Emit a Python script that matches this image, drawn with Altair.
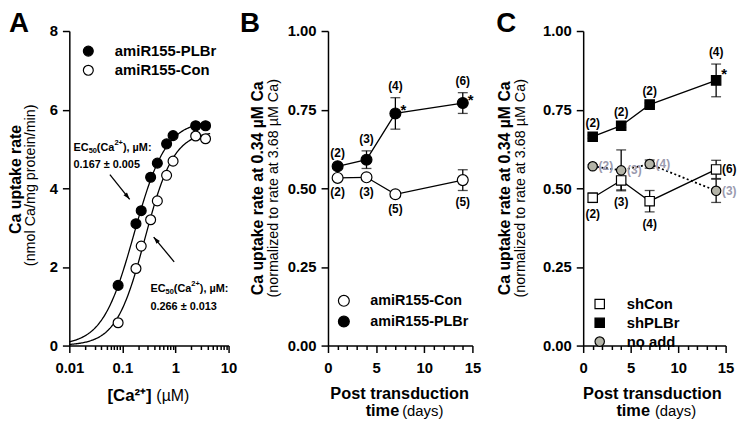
import altair as alt
import numpy as np
import pandas as pd

FONT = "Liberation Sans"
GRAYTXT = "#9a9aae"
GRAYFILL = "#b4b4a8"

# ---------------- data ----------------
# Panel A : Ca dependence
ca_conc = [0.083, 0.18, 0.226, 0.34, 0.455, 0.68, 0.90, 2.4, 3.68]
a_plbr = [1.53, 3.10, 3.43, 4.28, 4.64, 5.13, 5.34, 5.59, 5.59]
a_con = [0.58, 1.96, 2.53, 3.20, 3.68, 4.33, 4.69, 5.33, 5.26]
a_names = ["amiR155-PLBr", "amiR155-Con"]
a_ec50 = [0.167, 0.266]
a_vmax = [5.72, 5.45]
a_hill = [1.45, 1.6]
a_ec50_txt = ["0.167 ± 0.005", "0.266 ± 0.013"]
a_major = [0.01, 0.1, 1, 10]

# Panel B
days = [1, 4, 7, 14]
b_names = ["amiR155-Con", "amiR155-PLBr"]
b_con = [0.533, 0.535, 0.481, 0.526]
b_con_err = [0.008, 0.008, 0.008, 0.033]
b_con_n = [2, 3, 5, 5]
b_plbr = [0.570, 0.591, 0.738, 0.771]
b_plbr_err = [0.005, 0.028, 0.050, 0.033]
b_plbr_n = [2, 3, 4, 6]
b_plbr_sig = [False, False, True, True]

# Panel C
c_names = ["shCon", "shPLBr", "no add"]
c_shcon = [0.470, 0.525, 0.459, 0.560]
c_shcon_err = [0.015, 0.030, 0.034, 0.029]
c_shcon_n = [2, 3, 4, 6]
c_shplbr = [0.664, 0.699, 0.766, 0.843]
c_shplbr_err = [0.005, 0.005, 0.005, 0.052]
c_shplbr_n = [2, 2, 2, 4]
c_shplbr_sig = [False, False, False, True]
c_noadd = [0.570, 0.557, 0.577, 0.492]
c_noadd_err = [0.005, 0.065, 0.013, 0.037]
c_noadd_n = [2, 3, 4, 3]

one = pd.DataFrame({"k": [0]})


def txt(text, x, y, size, weight="normal", angle=0, align="center",
        baseline="alphabetic", color="black", font=FONT):
    mk = dict(text=text, fontSize=size, fontWeight=weight, align=align,
              baseline=baseline, color=color, font=font)
    if angle:
        mk["angle"] = angle
    return alt.Chart(one).mark_text(**mk).encode(x=alt.value(x), y=alt.value(y))


def legend(x, y, size, rowpad, offset, lsize):
    return alt.Legend(title=None, orient="none", legendX=x, legendY=y, padding=0,
                      symbolSize=size, symbolStrokeColor="black", symbolStrokeWidth=1.2,
                      rowPadding=rowpad, labelOffset=offset, labelFont=FONT,
                      labelFontSize=lsize, labelFontWeight="bold", labelColor="black")


PT_STROKE = dict(stroke=alt.value("black"), strokeWidth=alt.value(1.2))

# ---------------- panel A ----------------
WA, HA = 161, 318
a_ticks = sorted(set([round(m * 10.0 ** e, 4) for e in (-2, -1, 0) for m in range(1, 10)] + [10]))
a_test = " || ".join(f"datum.value == {v}" for v in a_major)
xA_axis = alt.Axis(values=a_ticks, title=None, format="~g", labelFlush=False, labelOverlap=False,
                   labelExpr=f"({a_test}) ? datum.label : ''", labelPadding=8,
                   tickSize={"condition": {"test": a_test, "value": 7}, "value": 4})
yA_axis = alt.Axis(values=[0, 2, 4, 6, 8], title=None, tickSize=7, labelPadding=5, format="d")
xA_scale = alt.Scale(type="log", domain=[0.01, 10], nice=False)
yA_scale = alt.Scale(domain=[0, 8], nice=False)


def XA(f):
    return alt.X(f, scale=xA_scale, axis=xA_axis)


def YA(f):
    return alt.Y(f, scale=yA_scale, axis=yA_axis)


df_a = pd.DataFrame({"x": ca_conc * 2, "y": a_plbr + a_con,
                     "series": [a_names[0]] * len(ca_conc) + [a_names[1]] * len(ca_conc)})
fit_rows = []
for name, ec, vm, nh in zip(a_names, a_ec50, a_vmax, a_hill):
    xs = np.geomspace(0.01, 4.5, 160)
    ys = vm * xs ** nh / (ec ** nh + xs ** nh)
    fit_rows.append(pd.DataFrame({"x": xs, "y": ys, "series": name}))
df_fit = pd.concat(fit_rows, ignore_index=True)

# EC50 annotations (anchor in data units)
ann_head = pd.DataFrame({"x": [0.0120, 0.337], "y": [5.02, 1.445]})
ann_val = pd.DataFrame({"x": [0.0120, 0.337], "y": [4.585, 0.99], "t": a_ec50_txt})
arrows = pd.DataFrame({"x1": [0.0581, 0.944], "y1": [4.35, 2.13],
                       "x2": [0.137, 0.388], "y2": [3.72, 2.76], "ang": [141, 320]})


def ann_piece(text, dx, dy, size):
    return alt.Chart(ann_head).mark_text(text=text, align="left", fontWeight="bold",
                                         fontSize=size, dx=dx, dy=dy, color="black").encode(
        x=XA("x:Q"), y=YA("y:Q"))


def letter(t, x):
    return txt(t, x, -21, 28, "bold", align="left", baseline="top")


A_layers = [
    alt.Chart(df_fit).mark_line(color="black", strokeWidth=1.3).encode(
        x=XA("x:Q"), y=YA("y:Q"), detail="series:N"),
    alt.Chart(arrows).mark_rule(color="black", strokeWidth=1.3).encode(
        x=XA("x1:Q"), y=YA("y1:Q"), x2="x2:Q", y2="y2:Q"),
    alt.Chart(arrows).mark_point(shape="M0,0L0.32,1L-0.32,1Z", filled=True, color="black",
                                 size=200, opacity=1).encode(
        x=XA("x2:Q"), y=YA("y2:Q"), angle=alt.Angle("ang:Q", scale=None)),
    ann_piece("EC", 0, 0, 11),
    ann_piece("50", 15.3, 3, 7.5),
    ann_piece("(Ca", 23.6, 0, 11),
    ann_piece("2+", 41.3, -5, 7.5),
    ann_piece("), µM:", 49.9, 0, 11),
    alt.Chart(ann_val).mark_text(align="left", fontWeight="bold", fontSize=11,
                                 color="black").encode(x=XA("x:Q"), y=YA("y:Q"), text="t:N"),
    alt.Chart(df_a).mark_point(filled=True, shape="circle", size=100, opacity=1).encode(
        x=XA("x:Q"), y=YA("y:Q"),
        fill=alt.Fill("series:N", scale=alt.Scale(domain=a_names, range=["black", "white"]),
                      legend=legend(11.7, 12.8, 100, 3.4, 19.3, 15)),
        **PT_STROKE),
    letter("A", -61),
    txt("Ca uptake rate", -54, 150, 16, "bold", angle=270, baseline="middle"),
    txt("(nmol Ca/mg protein/min)", -39, 156, 14.5, angle=270, baseline="middle"),
    txt("[Ca²⁺]", 83.3, 374, 17, "bold", align="right"),
    txt("(µM)", 88, 374, 16, align="left"),
]
panelA = alt.layer(*A_layers).properties(width=WA, height=HA)


# ---------------- panels B / C helpers ----------------
def series_df(name, vals, errs, ns, pos, sig):
    return pd.DataFrame({
        "series": name, "day": days, "val": vals, "err": errs,
        "lo": np.array(vals) - np.array(errs), "hi": np.array(vals) + np.array(errs),
        "lab": [f"({n})" for n in ns], "pos": pos, "sig": sig,
    })


x_test = "datum.value % 5 == 0"
xT_axis = alt.Axis(values=list(range(16)), title=None, format="d", labelFlush=False,
                   labelOverlap=False, labelExpr=f"({x_test}) ? datum.label : ''", labelPadding=8,
                   tickSize={"condition": {"test": x_test, "value": 7}, "value": 4})
yN_axis = alt.Axis(values=[0, 0.25, 0.5, 0.75, 1.0], title=None, tickSize=7, labelPadding=5,
                   format=".2f")
xT_scale = alt.Scale(domain=[0, 15], nice=False)
yN_scale = alt.Scale(domain=[0, 1], nice=False)


def XT(f):
    return alt.X(f, scale=xT_scale, axis=xT_axis)


def YN(f):
    return alt.Y(f, scale=yN_scale, axis=yN_axis)


def common_layers(df, lab_color, ast_dy):
    caps = alt.Chart(df).transform_fold(["lo", "hi"], as_=["k", "cap"]).mark_tick(
        orient="horizontal", size=10, thickness=1.3, color="black").encode(
        x=XT("day:Q"), y=YN("cap:Q"))
    rules = alt.Chart(df).mark_rule(color="black", strokeWidth=1.3).encode(
        x=XT("day:Q"), y=YN("lo:Q"), y2="hi:Q")
    above = alt.Chart(df).transform_filter("datum.pos == 'above'").mark_text(
        dy=-12, fontSize=12, fontWeight="bold", color="black", baseline="middle").encode(
        x=XT("day:Q"), y=YN("hi:Q"), text="lab:N")
    below = alt.Chart(df).transform_filter("datum.pos == 'below'").mark_text(
        dy=12, fontSize=12, fontWeight="bold", color="black", baseline="middle").encode(
        x=XT("day:Q"), y=YN("lo:Q"), text="lab:N")
    right = alt.Chart(df).transform_filter("datum.pos == 'right'").mark_text(
        dx=6, align="left", fontSize=12, fontWeight="bold", baseline="middle").encode(
        x=XT("day:Q"), y=YN("val:Q"), text="lab:N", color=lab_color)
    ast = alt.Chart(df).transform_filter("datum.sig").mark_text(
        text="*", dx=8, dy=ast_dy, fontSize=15, fontWeight="bold", color="black").encode(
        x=XT("day:Q"), y=YN("val:Q"))
    return rules, caps, above, below, right, ast


# ---------------- panel B ----------------
WB, HB = 146, 318
df_b = pd.concat([
    series_df(b_names[0], b_con, b_con_err, b_con_n, ["below"] * 4, [False] * 4),
    series_df(b_names[1], b_plbr, b_plbr_err, b_plbr_n, ["above"] * 4, b_plbr_sig),
], ignore_index=True)
rB, cB, aB, bB, riB, sB = common_layers(df_b, alt.value("black"), -3)
B_layers = [
    alt.Chart(df_b).mark_line(color="black", strokeWidth=1.3).encode(
        x=XT("day:Q"), y=YN("val:Q"), detail="series:N"),
    rB, cB,
    alt.Chart(df_b).mark_point(filled=True, shape="circle", size=121, opacity=1).encode(
        x=XT("day:Q"), y=YN("val:Q"),
        fill=alt.Fill("series:N", scale=alt.Scale(domain=b_names, range=["white", "black"]),
                      legend=legend(8.8, 265.5, 121, 4, 19.5, 14.5)),
        **PT_STROKE),
    aB, bB, sB,
    letter("B", -89),
    txt("Ca uptake rate at 0.34 µM Ca", -71, 159, 16, "bold", angle=270, baseline="middle"),
    txt("(normalized to rate at 3.68 µM Ca)", -55, 159, 14.5, angle=270, baseline="middle"),
    txt("Post transduction", 72.5, 372, 16.5, "bold"),
    txt("time", 72, 389, 16.5, "bold", align="right"),
    txt("(days)", 75, 389, 15, align="left"),
]
panelB = alt.layer(*B_layers).properties(width=WB, height=HB)

# ---------------- panel C ----------------
WC, HC = 144, 318
df_c = pd.concat([
    series_df(c_names[0], c_shcon, c_shcon_err, c_shcon_n,
              ["below", "below", "below", "right"], [False] * 4),
    series_df(c_names[1], c_shplbr, c_shplbr_err, c_shplbr_n, ["above"] * 4, c_shplbr_sig),
    series_df(c_names[2], c_noadd, c_noadd_err, c_noadd_n, ["right"] * 4, [False] * 4),
], ignore_index=True)
lab_col = alt.Color("series:N", scale=alt.Scale(domain=c_names, range=["black", "black", GRAYTXT]),
                    legend=None)
rC, cC, aC, bC, riC, sC = common_layers(df_c, lab_col, -6)
legC = legend(9.2, 268.5, 90, 3, 19.8, 15)
C_layers = [
    alt.Chart(df_c).transform_filter("datum.series != 'no add'").mark_line(
        color="black", strokeWidth=1.3).encode(x=XT("day:Q"), y=YN("val:Q"), detail="series:N"),
    alt.Chart(df_c).transform_filter("datum.series == 'no add'").mark_line(
        color="black", strokeWidth=1.8, strokeDash=[2, 2.5]).encode(x=XT("day:Q"), y=YN("val:Q")),
    rC, cC,
    alt.Chart(df_c).mark_point(filled=True, size=90, opacity=1, strokeWidth=1.2).encode(
        x=XT("day:Q"), y=YN("val:Q"),
        fill=alt.Fill("series:N", scale=alt.Scale(domain=c_names, range=["white", "black", GRAYFILL]),
                      legend=legC),
        shape=alt.Shape("series:N", scale=alt.Scale(domain=c_names, range=["square", "square", "circle"]),
                        legend=legC),
        stroke=alt.Stroke("series:N", scale=alt.Scale(domain=c_names, range=["black", "black", "black"]),
                          legend=legC)),
    aC, bC, riC, sC,
    letter("C", -88),
    txt("Ca uptake rate at 0.34 µM Ca", -78.5, 159, 16, "bold", angle=270, baseline="middle"),
    txt("(normalized to rate at 3.68 µM Ca)", -63, 159, 14.5, angle=270, baseline="middle"),
    txt("Post transduction", 70, 372, 16.5, "bold"),
    txt("time", 67.5, 389, 16.5, "bold", align="right"),
    txt("(days)", 72.5, 389, 15, align="left"),
]
panelC = alt.layer(*C_layers).properties(width=WC, height=HC)

indep = dict(fill="independent", shape="independent", color="independent", stroke="independent")
inner = alt.hconcat(panelB, panelC, spacing=15).resolve_scale(**indep).resolve_legend(**indep)
chart = alt.hconcat(panelA, inner, spacing=2.5, padding=0).resolve_scale(**indep).resolve_legend(**indep)
chart = chart.configure(font=FONT).configure_view(stroke=None).configure_axis(
    grid=False, domainColor="black", domainWidth=1.5, tickColor="black", tickWidth=1.5,
    labelFont=FONT, labelFontSize=15, labelFontWeight="bold", labelColor="black",
).configure_text(font=FONT)

chart.save("out.html", embed_options={"renderer": "svg", "actions": False})
